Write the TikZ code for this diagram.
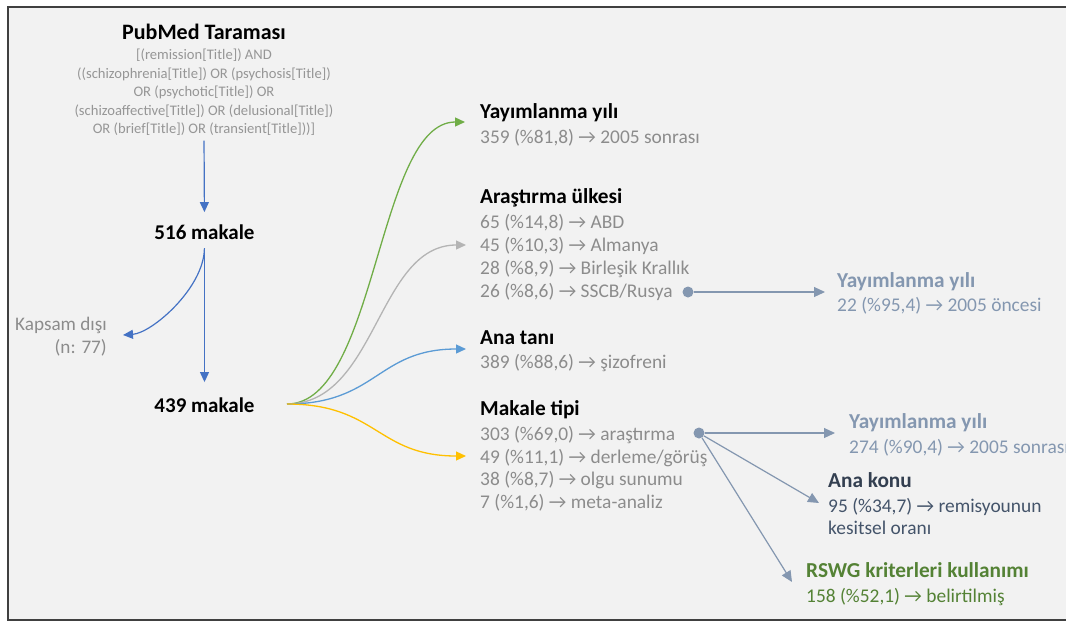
\documentclass[tikz,border=0pt]{standalone}
\usepackage{fontspec}
\setmainfont{Carlito}
\usetikzlibrary{arrows.meta}
\definecolor{bgc}{HTML}{F2F2F2}
\definecolor{framec}{HTML}{404040}
\definecolor{greytxt}{HTML}{8C8C8C}
\definecolor{qtxt}{HTML}{969696}
\definecolor{blueA}{HTML}{4472C4}
\definecolor{greenA}{HTML}{70AD47}
\definecolor{greyA}{HTML}{B4B4B4}
\definecolor{lblueA}{HTML}{5B9BD5}
\definecolor{yellowA}{HTML}{FFC000}
\definecolor{slateA}{HTML}{8497B0}
\definecolor{darkslate}{HTML}{333F50}
\definecolor{darkslateT}{HTML}{44546A}
\definecolor{darkgreen}{HTML}{548235}
\begin{document}
\begin{tikzpicture}[x=1pt,y=-1pt,
  titlest/.style={font=\fontsize{22}{26}\selectfont\bfseries, anchor=base, inner sep=0pt},
  queryst/.style={font=\fontsize{14.6}{17}\selectfont, text=qtxt, anchor=base, inner sep=0pt},
  mainst/.style={font=\fontsize{21}{25}\selectfont\bfseries, anchor=base, inner sep=0pt},
  hd/.style={font=\fontsize{21.3}{25}\selectfont\bfseries, anchor=base west, inner sep=0pt},
  bd/.style={font=\fontsize{19.4}{24}\selectfont, text=greytxt, anchor=base west, inner sep=0pt},
  kap/.style={font=\fontsize{19.2}{23}\selectfont, text=greytxt, anchor=base east, inner sep=0pt},
  barr/.style={draw=blueA, line width=1.2pt, -{Triangle[length=10pt,width=9pt]}},
  carr/.style={line width=1.3pt, -{Triangle[length=10pt,width=9pt]}},
  sarr/.style={draw=slateA, line width=1.2pt, -{Triangle[length=11pt,width=10pt]}},
  dotst/.style={circle, fill=slateA, inner sep=0pt, minimum size=11pt}
]
\useasboundingbox (0,0) rectangle (1066,622);
\draw[draw=framec, line width=2pt, fill=bgc] (8,7) rectangle (1090,620);

% left column
\node[titlest] (title) at (204,39) {PubMed Taraması};
\node[queryst] (q1) at (204,59) {[(remission[Title]) AND};
\node[queryst] (q2) at (204,78) {((schizophrenia[Title]) OR (psychosis[Title])};
\node[queryst] (q3) at (204,96.5) {OR (psychotic[Title]) OR};
\node[queryst] (q4) at (204,115) {(schizoaffective[Title]) OR (delusional[Title])};
\node[queryst] (q5) at (204,133.5) {OR (brief[Title]) OR (transient[Title]))]};

\node[mainst] (n516) at (204.5,239) {516 makale};
\node[mainst] (n439) at (204.5,412) {439 makale};

\node[kap] (kap1) at (107,330) {Kapsam dışı};
\node[kap] (kap2) at (107,353) {(n: 77)};
\coordinate (kapTip) at (123,335);

\draw[barr, shorten <=5pt, shorten >=12pt] (q5.south) -- (n516.north);
\draw[barr, shorten <=9pt, shorten >=15pt] (n516.south) -- (n439.north);
\draw[barr, shorten <=9pt] (n516.south) .. controls (204,288) and (152,333) .. (kapTip);

% right column texts
\node[hd] (h1) at (480,118) {Yayımlanma yılı};
\node[bd] (h1a) at (480,143) {359 (\%81,8) → 2005 sonrası};

\node[hd] (h2) at (480,203) {Araştırma ülkesi};
\node[bd] (h2a) at (480,228) {65 (\%14,8) → ABD};
\node[bd] (h2b) at (480,251) {45 (\%10,3) → Almanya};
\node[bd] (h2c) at (480,274) {28 (\%8,9) → Birleşik Krallık};
\node[bd] (h2d) at (480,297) {26 (\%8,6) → SSCB/Rusya};

\node[hd] (h3) at (480,344) {Ana tanı};
\node[bd] (h3a) at (480,368) {389 (\%88,6) → şizofreni};

\node[hd] (h4) at (480,415) {Makale tipi};
\node[bd] (h4a) at (480,440) {303 (\%69,0) → araştırma};
\node[bd] (h4b) at (480,463) {49 (\%11,1) → derleme/görüş};
\node[bd] (h4c) at (480,485.5) {38 (\%8,7) → olgu sunumu};
\node[bd] (h4d) at (480,508) {7 (\%1,6) → meta-analiz};

% far right
\node[hd, text=slateA] (r1) at (837,287) {Yayımlanma yılı};
\node[bd, text=slateA] (r1a) at (837,311) {22 (\%95,4) → 2005 öncesi};

\node[hd, text=slateA] (r2) at (849,428) {Yayımlanma yılı};
\node[bd, text=slateA] (r2a) at (849,453) {274 (\%90,4) → 2005 sonrası};

\node[hd, text=darkslate] (r3) at (828,487) {Ana konu};
\node[bd, text=darkslateT] (r3a) at (828,512) {95 (\%34,7) → remisyounun};
\node[bd, text=darkslateT] (r3b) at (828,534) {kesitsel oranı};

\node[hd, text=darkgreen] (r4) at (806,577) {RSWG kriterleri kullanımı};
\node[bd, text=darkgreen] (r4a) at (806,602) {158 (\%52,1) → belirtilmiş};

% curved connectors from 439
\coordinate (src) at (287,404);
\coordinate (tipG) at (465,122);
\coordinate (tipY) at (466,245);
\coordinate (tipB) at (466,349);
\coordinate (tipO) at (466,456);
\draw[carr, draw=greenA] (src) .. controls (377,404) and (377,122) .. (tipG);
\draw[carr, draw=greyA] (src) .. controls (377,404) and (377,245) .. (tipY);
\draw[carr, draw=lblueA] (src) .. controls (377,404) and (377,349) .. (tipB);
\draw[carr, draw=yellowA] (src) .. controls (377,404) and (377,456) .. (tipO);

% dots and straight connectors
\node[dotst] (d1) at (688,292) {};
\node[dotst] (d2) at (699,433) {};
\coordinate (t1) at (825,292);
\coordinate (t2) at (835,433);
\coordinate (t3) at (819,503);
\coordinate (t4) at (792,582);
\draw[sarr] (d1) -- (t1);
\draw[sarr] (d2) -- (t2);
\draw[sarr] (d2) -- (t3);
\draw[sarr] (d2) -- (t4);
\end{tikzpicture}
\end{document}
